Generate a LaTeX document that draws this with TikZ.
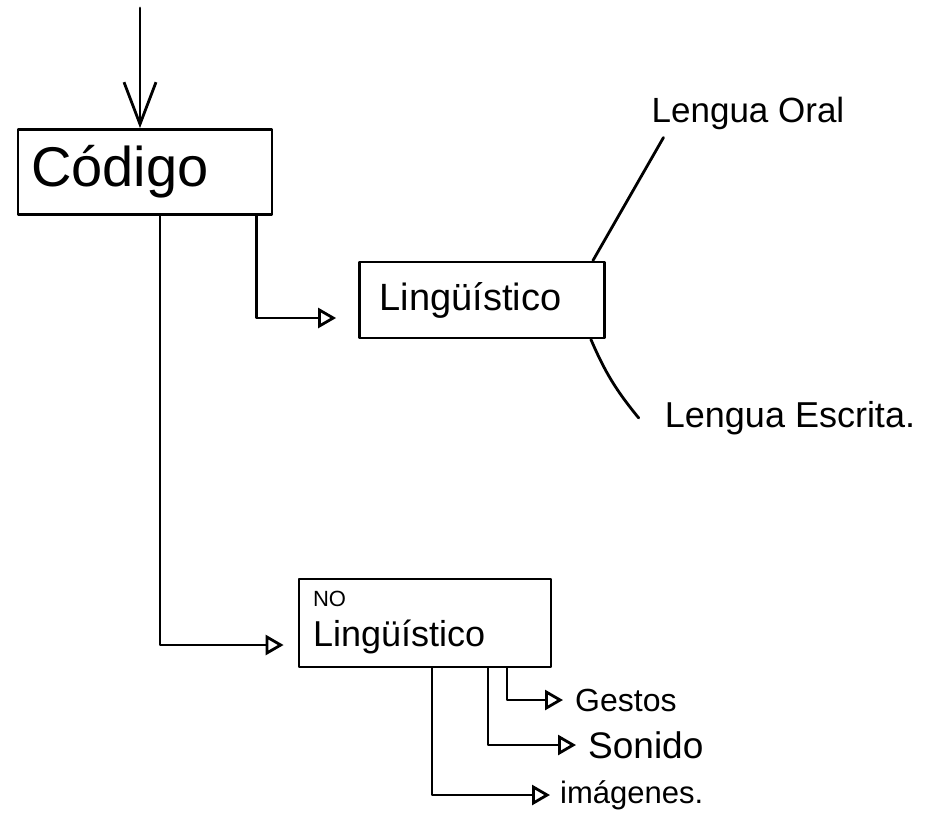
\documentclass[tikz,border=0pt]{standalone}
\usepackage{fontspec}
\setmainfont{Liberation Sans}
\usetikzlibrary{arrows.meta,calc}
\begin{document}
\begin{tikzpicture}[x=1pt,y=-1pt,
  ink/.style={line width=2.8pt,line cap=round,line join=round},
  boxnode/.style={ink,draw,align=left,anchor=center,inner ysep=0pt},
  lbl/.style={inner sep=0pt,anchor=center},
  tri/.style={ink,-{Triangle[open,length=18pt,width=20pt,line width=2.8pt]}},
  vee/.style={ink,-{Straight Barb[length=42pt,width=32pt,line width=2.8pt]}}]
\useasboundingbox (0,0) rectangle (947,820);
% boxes
\node[boxnode,minimum width=254pt,minimum height=85pt,text width=228pt,inner xsep=13pt,font=\fontsize{56}{60}\selectfont] (codigo) at (145,172) {Código};
\node[boxnode,minimum width=245pt,minimum height=76pt,text width=205pt,inner xsep=20pt,font=\fontsize{38}{42}\selectfont] (ling) at (482,300) {Lingüístico};
\node[boxnode,minimum width=252pt,minimum height=88pt,text width=224pt,inner xsep=14pt,font=\fontsize{36}{34}\selectfont] (noling) at (425,623)
  {{\fontsize{22}{24}\selectfont NO}\\[6pt]Lingüístico};
% labels
\node[lbl,font=\fontsize{35}{40}\selectfont] (oral) at (748,113) {Lengua Oral};
\node[lbl,font=\fontsize{36}{40}\selectfont] (escrita) at (790,418) {Lengua Escrita.};
\node[lbl,font=\fontsize{32}{36}\selectfont,anchor=west] (gestos) at (575,700) {Gestos};
\node[lbl,font=\fontsize{37}{40}\selectfont,anchor=west] (sonido) at (588,745) {Sonido};
\node[lbl,font=\fontsize{31}{34}\selectfont,anchor=west] (imagenes) at (560,795) {imágenes.};
% top arrow
\coordinate (start) at (140,8);
\draw[vee] (start) -- (codigo.north -| start);
% connectors
\draw[tri,shorten >=22pt] ([xshift=-17pt]codigo.south east) |- ([yshift=-18pt]ling.west);
\draw[tri,shorten >=14pt] ([xshift=15pt]codigo.south) |- ([yshift=-22pt]noling.west);
\draw[ink] ([xshift=-13pt]ling.north east) -- ([xshift=12pt,yshift=-8pt]oral.south west);
\draw[ink] ([xshift=-15pt]ling.south east) to[bend right=8] ([xshift=-26pt]escrita.west);
\draw[tri,shorten >=10pt] ([xshift=7pt]noling.south) |- (imagenes.west);
\draw[tri,shorten >=12pt] ([xshift=63pt]noling.south) |- (sonido.west);
\draw[tri,shorten >=12pt] ([xshift=82pt]noling.south) |- (gestos.west);
\end{tikzpicture}
\end{document}
